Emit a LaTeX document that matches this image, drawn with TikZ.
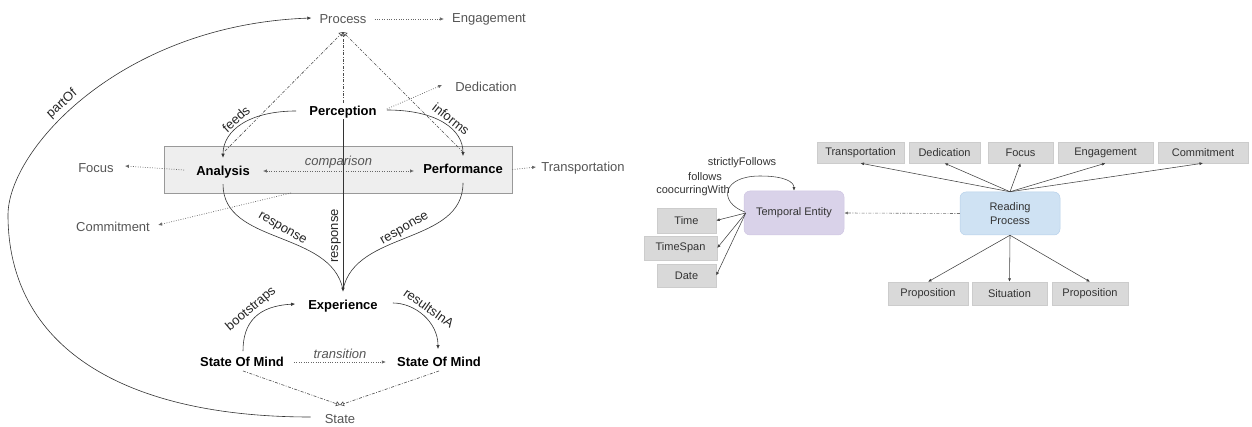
\documentclass[tikz,border=0pt]{standalone}
\usepackage{fontspec}
\setmainfont{Liberation Sans}
\usetikzlibrary{arrows.meta,calc}
\definecolor{txtgray}{HTML}{555555}
\definecolor{grpfill}{HTML}{EEEEEE}
\definecolor{grpdraw}{HTML}{999999}
\definecolor{rgray}{HTML}{D9D9D9}
\definecolor{rgrayd}{HTML}{CCCCCC}
\definecolor{lav}{HTML}{D9D2E9}
\definecolor{lavd}{HTML}{CFC6E2}
\definecolor{lblue}{HTML}{CFE2F3}
\definecolor{lblued}{HTML}{B7D0EA}
\definecolor{rtxt}{HTML}{333333}
\tikzset{
  lab/.style={text=txtgray, inner sep=1pt, font=\fontsize{13}{15}\selectfont},
  bnode/.style={text=black, inner sep=1pt, font=\fontsize{13}{15}\selectfont\bfseries},
  elab/.style={text=black!85, inner sep=0pt, font=\fontsize{13}{15}\selectfont},
  ilab/.style={text=txtgray, inner sep=0pt, font=\fontsize{13}{15}\selectfont\itshape},
  solidarr/.style={draw=black!80, line width=0.6pt, -{Latex[length=4pt,width=3.5pt]}},
  solidline/.style={draw=black!80, line width=0.6pt},
  dotarr/.style={draw=black!60, line width=0.7pt, dash pattern=on 0.8pt off 1.6pt, -{Latex[length=4pt,width=3.5pt]}},
  dotarrb/.style={draw=black!60, line width=0.7pt, dash pattern=on 0.8pt off 1.6pt, {Latex[length=4pt,width=3.5pt]}-{Latex[length=4pt,width=3.5pt]}},
  dashdot/.style={draw=black!70, line width=0.6pt, dash pattern=on 3pt off 1.5pt on 0.8pt off 1.5pt, -{Triangle[open,length=4pt,width=5pt]}},
  rbox/.style={fill=rgray, draw=rgrayd, line width=0.4pt, text=rtxt, font=\fontsize{11}{13}\selectfont, inner sep=0pt, minimum height=21pt},
  rtext/.style={text=rtxt, font=\fontsize{11}{13}\selectfont, inner sep=0pt},
  rarr/.style={draw=black!75, line width=0.55pt, -{Latex[length=3.5pt,width=3pt]}},
  rdashdot/.style={draw=black!55, line width=0.6pt, dash pattern=on 3pt off 1.5pt on 0.8pt off 1.5pt, -{Latex[length=3.5pt,width=3pt]}},
}
\begin{document}
\begin{tikzpicture}[x=1pt,y=-1pt]
\useasboundingbox (0,0) rectangle (1252,427);

% ---------------- left diagram ----------------
\node[draw=grpdraw, fill=grpfill, line width=0.6pt, minimum width=348pt, minimum height=47pt, inner sep=0pt] (grp) at (338,169.5) {};

\node[lab] (proc) at (343,19) {Process};
\node[lab] (eng) at (489,19) {Engagement};
\node[bnode] (perc) at (343,112) {Perception};
\node[lab] (ded) at (486,87) {Dedication};
\node[bnode] (ana) at (223,172) {Analysis};
\node[bnode] (perf) at (463,169) {Performance};
\node[lab] (foc) at (96,168) {Focus};
\node[lab] (trans) at (583,168) {Transportation};
\node[lab] (comm) at (113,227) {Commitment};
\node[bnode] (exp) at (343,306) {Experience};
\node[bnode] (som1) at (242,362) {State Of Mind};
\node[bnode] (som2) at (439,362) {State Of Mind};
\node[lab] (state) at (340,419) {State};

\coordinate (pj) at (343,32);
\coordinate (sj) at (340,405);
\coordinate (anatop) at (225,151);
\coordinate (perftop) at (463,152);
\coordinate (commsrc) at (291,193);

% partOf
\draw[solidarr] ($(state.west)+(-13,-2)$) .. controls (120,417) and (8,345) .. (8,215)
  .. controls (8,150) and (120,25) .. ($(proc.west)+(-7,-1)$);
\node[elab, rotate=42] at (62,104) {partOf};

% dotted arrows
\draw[dotarr, shorten <=7pt, shorten >=7pt] (proc.east) -- (eng.west);
\draw[dotarr] ($(perc.east)+(9,-3)$) -- ($(ded.west)+(-12,-2)$);
\draw[dotarr] ($(ana.west)+(-11,-2)$) -- ($(foc.east)+(10,-2)$);
\draw[dotarr] (grp.east) -- ($(trans.west)+(-4,-1)$);
\draw[dotarr] (commsrc) -- ($(comm.east)+(7,-2)$);
\draw[dotarrb] ($(ana.east)+(12,-1)$) -- ($(perf.west)+(-8,2)$)
  node[ilab, midway, above=2pt] {comparison};

% dash-dot to Process / State
\draw[dashdot] ($(perc.north)+(0,-2)$) -- (pj);
\draw[dashdot] (anatop) -- (pj);
\draw[dashdot] (perftop) -- (pj);
\draw[dashdot] ($(som1.south)+(1,3)$) -- (sj);
\draw[dashdot] ($(som2.south)+(0,3)$) -- (sj);

% feeds / informs
\draw[solidarr] ($(perc.west)+(-12,-1)$) .. controls (250,111) and (223,130) .. ($(ana.north)+(0,-7)$);
\node[elab, rotate=42] at (236,119) {feeds};
\draw[solidarr] ($(perc.east)+(9,-2)$) .. controls (438,110) and (463,130) .. ($(perf.north)+(0,-7)$);
\node[elab, rotate=-38] at (451,119) {informs};

% responses
\draw[solidarr] (perc.south) -- ($(exp.north)+(0,-7)$);
\node[elab, rotate=90] at (336,236) {response};
\draw[solidline] ($(ana.south)+(0,5)$) .. controls (223,245) and (331,230) .. ($(exp.north)+(0,-9)$);
\node[elab, rotate=-30] at (282,229) {response};
\draw[solidline] ($(perf.south)+(0,8)$) .. controls (463,245) and (355,230) .. ($(exp.north)+(0,-9)$);
\node[elab, rotate=30] at (405,229) {response};

% bootstraps / resultsInA / transition
\draw[solidarr] ($(som1.north)+(1,-5)$) .. controls (243,322) and (258,306) .. ($(exp.west)+(-12,-2)$);
\node[elab, rotate=40] at (251,309) {bootstraps};
\draw[solidarr] ($(exp.east)+(14,-3)$) .. controls (415,303) and (438,322) .. ($(som2.north)+(-1,-7)$);
\node[elab, rotate=-35] at (429,308) {resultsInA};
\draw[dotarr] ($(som1.east)+(9,0)$) -- ($(som2.west)+(-10,0)$)
  node[ilab, midway, above=3pt] {transition};

% ---------------- right diagram ----------------
\node[rbox, minimum width=87pt] (t1) at (860.5,152.5) {Transportation};
\node[rbox, minimum width=71pt] (t2) at (944.5,152.5) {Dedication};
\node[rbox, minimum width=65pt] (t3) at (1020.5,152.5) {Focus};
\node[rbox, minimum width=95pt] (t4) at (1105.5,152.5) {Engagement};
\node[rbox, minimum width=90pt] (t5) at (1203,152.5) {Commitment};

\node[rbox, minimum width=80pt, minimum height=23pt] (b1) at (928,293.5) {Proposition};
\node[rbox, minimum width=75pt, minimum height=23pt] (b2) at (1009.5,293.5) {Situation};
\node[rbox, minimum width=76pt, minimum height=23pt] (b3) at (1090,293.5) {Proposition};

\node[fill=lblue, draw=lblued, line width=0.5pt, rounded corners=6pt, minimum width=100pt, minimum height=43pt,
  text=rtxt, font=\fontsize{11}{14}\selectfont, align=center, inner sep=0pt] (rp) at (1010,213.5) {Reading\\Process};
\node[fill=lav, draw=lavd, line width=0.5pt, rounded corners=6pt, minimum width=100pt, minimum height=44pt,
  text=rtxt, font=\fontsize{11}{13}\selectfont, inner sep=0pt] (te) at (794,213) {Temporal Entity};

\node[rbox, minimum width=59pt, minimum height=25pt] (tm) at (686.5,220.5) {Time};
\node[rbox, minimum width=73pt, minimum height=24pt] (ts) at (680.5,248) {TimeSpan};
\node[rbox, minimum width=59pt, minimum height=23pt] (dt) at (686.5,275.5) {Date};

\foreach \t in {t1,t2,t3,t4,t5} \draw[rarr] (rp.north) -- (\t.south);
\foreach \b in {b1,b2,b3} \draw[rarr] (rp.south) -- (\b.north);
\draw[rdashdot] (rp.west) -- (te.east);
\coordinate (tesrc) at ($(te.west)+(2,0)$);
\draw[rarr] (tesrc) -- (tm.east);
\draw[rarr] (tesrc) -- (ts.east);
\draw[rarr] (tesrc) -- (dt.east);

\draw[rarr] ($(te.west)+(1,-1)$) .. controls (718,202) and (722,176) .. (760,176)
  .. controls (785,176) and (794,182) .. (te.north);
\node[rtext] (l1) at (742,163) {strictlyFollows};
\node[rtext] (l2) at (705,177) {follows};
\node[rtext] (l3) at (693,191) {coocurringWith};
\end{tikzpicture}
\end{document}
